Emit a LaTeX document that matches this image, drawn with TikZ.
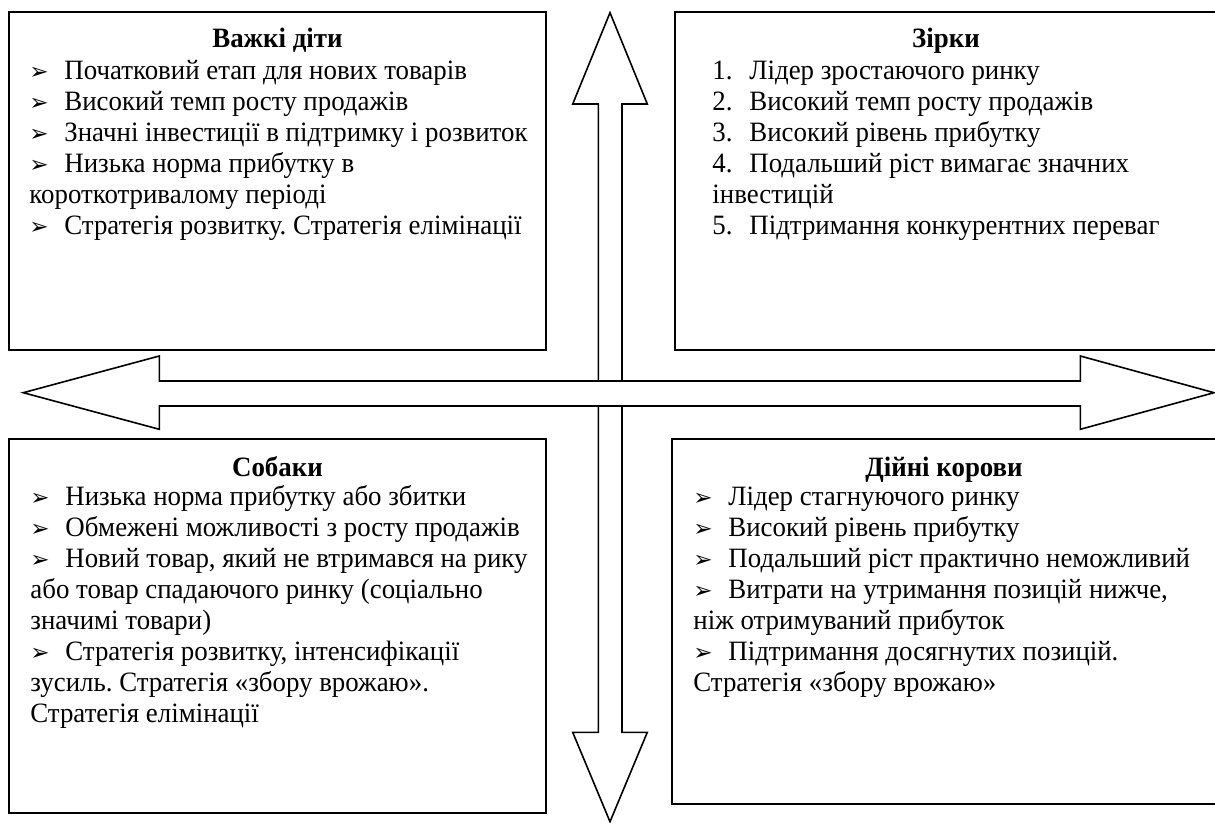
\documentclass[tikz,border=0pt]{standalone}
\usepackage{fontspec}
\setmainfont{Liberation Serif}[FakeStretch=0.96]
\newfontfamily\dejavu{DejaVu Sans}
\newcommand\bul{\makebox[17.5pt][l]{\raisebox{0pt}{\dejavu\fontsize{11.5}{11.5}\selectfont\char"27A2}}}
\newcommand\num[1]{\makebox[18.5pt][l]{#1}}
\newcommand\topstrut{\rule{0pt}{10pt}}
\frenchspacing
\tikzset{
  box/.style={draw, line width=1pt},
  head/.style={font=\fontsize{14}{15.5}\selectfont\bfseries, inner sep=0pt, anchor=base},
  body/.style={font=\fontsize{14}{15.5}\selectfont, inner sep=0pt, anchor=north west, align=left},
  bigarrow/.style={draw, fill=white, line width=0.8pt, line join=miter},
}
\begin{document}
\begin{tikzpicture}[x=0.5pt,y=-0.5pt]
\useasboundingbox (0,0) rectangle (1215,823);
% boxes
\draw[box] (9,12) rectangle (546,350);
\draw[box] (675,12) rectangle (1217,350);
\draw[box] (9,439) rectangle (546,813);
\draw[box] (672,439) rectangle (1217,804);
% vertical double arrow
\draw[bigarrow] (610,12.7) -- (647.3,104) -- (622,104) -- (622,732.3) -- (647.3,732.3)
  -- (610,821.7) -- (572.7,732.3) -- (598.3,732.3) -- (598.3,104) -- (572.7,104) -- cycle;
% horizontal double arrow
\draw[bigarrow] (23.3,392.7) -- (159.3,356) -- (159.3,381) -- (1080.3,381) -- (1080.3,356)
  -- (1214,392.7) -- (1080.3,429.3) -- (1080.3,406) -- (159.3,406) -- (159.3,429.3) -- cycle;
% top-left
\node[head] (h1) at (277.5,48) {Важкі діти};
\node[body] (t1) at (29,59) {\topstrut\bul Початковий етап для нових товарів\\
\bul Високий темп росту продажів\\
\bul Значні інвестиції в підтримку і розвиток\\
\bul Низька норма прибутку в\\
короткотривалому періоді\\
\bul Стратегія розвитку. Стратегія елімінації};
% top-right
\node[head] (h2) at (946,48) {Зірки};
\node[body] (t2) at (712,59) {\topstrut\num{1.}Лідер зростаючого ринку\\
\num{2.}Високий темп росту продажів\\
\num{3.}Високий рівень прибутку\\
\num{4.}Подальший ріст вимагає значних\\
інвестицій\\
\num{5.}Підтримання конкурентних переваг};
% bottom-left
\node[head] (h3) at (277.5,476) {Собаки};
\node[body] (t3) at (30,485) {\topstrut\bul Низька норма прибутку або збитки\\
\bul Обмежені можливості з росту продажів\\
\bul Новий товар, який не втримався на рику\\
або товар спадаючого ринку (соціально\\
значимі товари)\\
\bul Стратегія розвитку, інтенсифікації\\
зусиль. Стратегія «збору врожаю».\\
Стратегія елімінації};
% bottom-right
\node[head] (h4) at (944,476) {Дійні корови};
\node[body] (t4) at (693,485) {\topstrut\bul Лідер стагнуючого ринку\\
\bul Високий рівень прибутку\\
\bul Подальший ріст практично неможливий\\
\bul Витрати на утримання позицій нижче,\\
ніж отримуваний прибуток\\
\bul Підтримання досягнутих позицій.\\
Стратегія «збору врожаю»};
\end{tikzpicture}
\end{document}
